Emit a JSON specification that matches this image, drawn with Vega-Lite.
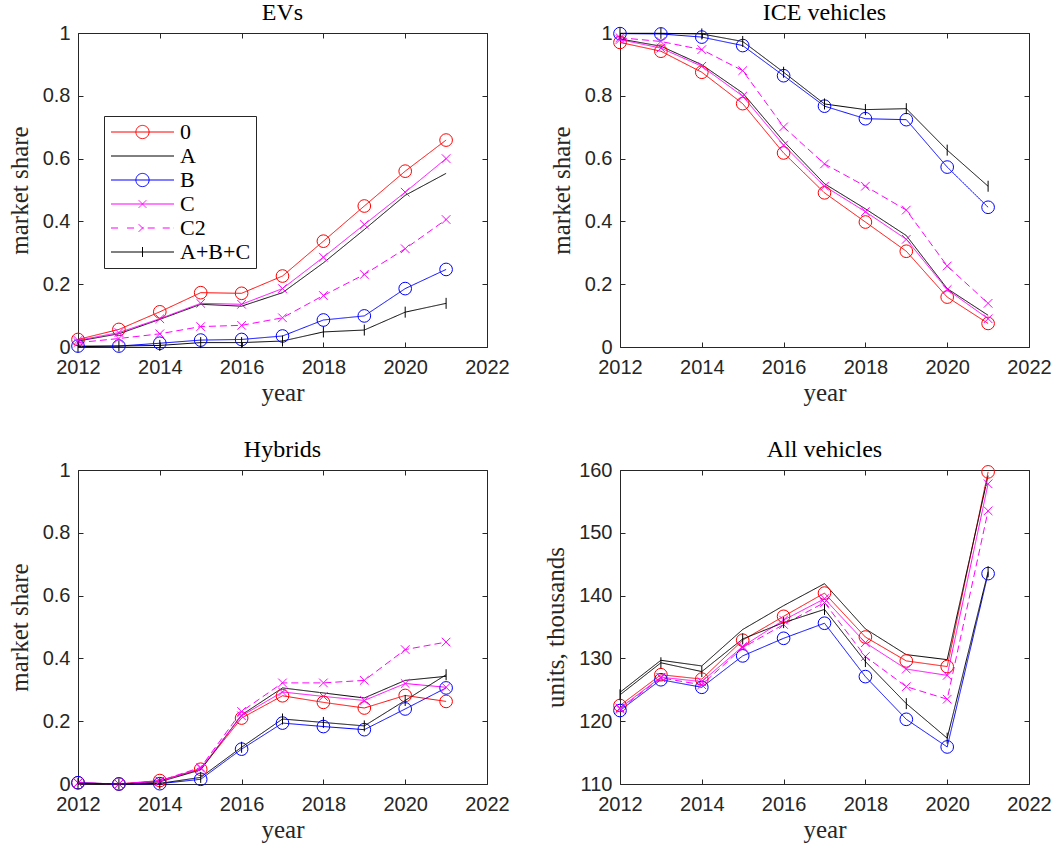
{
  "$schema": "https://vega.github.io/schema/vega-lite/v6.json",
  "autosize": {"type": "pad"},
  "padding": {"left": 6, "top": 0, "right": 5, "bottom": 5},
  "background": "white",
  "datasets": {
    "d": [
      {"panel":"EVs","series":"0","year":2012,"value":0.024},{"panel":"EVs","series":"0","year":2013,"value":0.056},{"panel":"EVs","series":"0","year":2014,"value":0.112},{"panel":"EVs","series":"0","year":2015,"value":0.173},{"panel":"EVs","series":"0","year":2016,"value":0.171},{"panel":"EVs","series":"0","year":2017,"value":0.226},{"panel":"EVs","series":"0","year":2018,"value":0.337},{"panel":"EVs","series":"0","year":2019,"value":0.449},{"panel":"EVs","series":"0","year":2020,"value":0.560},{"panel":"EVs","series":"0","year":2021,"value":0.659},
      {"panel":"EVs","series":"A","year":2012,"value":0.019},{"panel":"EVs","series":"A","year":2013,"value":0.042},{"panel":"EVs","series":"A","year":2014,"value":0.088},{"panel":"EVs","series":"A","year":2015,"value":0.136},{"panel":"EVs","series":"A","year":2016,"value":0.130},{"panel":"EVs","series":"A","year":2017,"value":0.173},{"panel":"EVs","series":"A","year":2018,"value":0.268},{"panel":"EVs","series":"A","year":2019,"value":0.374},{"panel":"EVs","series":"A","year":2020,"value":0.483},{"panel":"EVs","series":"A","year":2021,"value":0.553},
      {"panel":"EVs","series":"B","year":2012,"value":0.003},{"panel":"EVs","series":"B","year":2013,"value":0.003},{"panel":"EVs","series":"B","year":2014,"value":0.012},{"panel":"EVs","series":"B","year":2015,"value":0.022},{"panel":"EVs","series":"B","year":2016,"value":0.024},{"panel":"EVs","series":"B","year":2017,"value":0.035},{"panel":"EVs","series":"B","year":2018,"value":0.086},{"panel":"EVs","series":"B","year":2019,"value":0.099},{"panel":"EVs","series":"B","year":2020,"value":0.186},{"panel":"EVs","series":"B","year":2021,"value":0.247},
      {"panel":"EVs","series":"C","year":2012,"value":0.021},{"panel":"EVs","series":"C","year":2013,"value":0.046},{"panel":"EVs","series":"C","year":2014,"value":0.090},{"panel":"EVs","series":"C","year":2015,"value":0.139},{"panel":"EVs","series":"C","year":2016,"value":0.136},{"panel":"EVs","series":"C","year":2017,"value":0.186},{"panel":"EVs","series":"C","year":2018,"value":0.286},{"panel":"EVs","series":"C","year":2019,"value":0.390},{"panel":"EVs","series":"C","year":2020,"value":0.493},{"panel":"EVs","series":"C","year":2021,"value":0.600},
      {"panel":"EVs","series":"C2","year":2012,"value":0.014},{"panel":"EVs","series":"C2","year":2013,"value":0.027},{"panel":"EVs","series":"C2","year":2014,"value":0.042},{"panel":"EVs","series":"C2","year":2015,"value":0.065},{"panel":"EVs","series":"C2","year":2016,"value":0.069},{"panel":"EVs","series":"C2","year":2017,"value":0.093},{"panel":"EVs","series":"C2","year":2018,"value":0.164},{"panel":"EVs","series":"C2","year":2019,"value":0.231},{"panel":"EVs","series":"C2","year":2020,"value":0.313},{"panel":"EVs","series":"C2","year":2021,"value":0.406},
      {"panel":"EVs","series":"A+B+C","year":2012,"value":0.001},{"panel":"EVs","series":"A+B+C","year":2013,"value":0.003},{"panel":"EVs","series":"A+B+C","year":2014,"value":0.005},{"panel":"EVs","series":"A+B+C","year":2015,"value":0.014},{"panel":"EVs","series":"A+B+C","year":2016,"value":0.014},{"panel":"EVs","series":"A+B+C","year":2017,"value":0.019},{"panel":"EVs","series":"A+B+C","year":2018,"value":0.048},{"panel":"EVs","series":"A+B+C","year":2019,"value":0.054},{"panel":"EVs","series":"A+B+C","year":2020,"value":0.111},{"panel":"EVs","series":"A+B+C","year":2021,"value":0.139},

      {"panel":"ICE","series":"0","year":2012,"value":0.970},{"panel":"ICE","series":"0","year":2013,"value":0.942},{"panel":"ICE","series":"0","year":2014,"value":0.875},{"panel":"ICE","series":"0","year":2015,"value":0.775},{"panel":"ICE","series":"0","year":2016,"value":0.618},{"panel":"ICE","series":"0","year":2017,"value":0.491},{"panel":"ICE","series":"0","year":2018,"value":0.398},{"panel":"ICE","series":"0","year":2019,"value":0.305},{"panel":"ICE","series":"0","year":2020,"value":0.159},{"panel":"ICE","series":"0","year":2021,"value":0.075},
      {"panel":"ICE","series":"A","year":2012,"value":0.981},{"panel":"ICE","series":"A","year":2013,"value":0.958},{"panel":"ICE","series":"A","year":2014,"value":0.899},{"panel":"ICE","series":"A","year":2015,"value":0.809},{"panel":"ICE","series":"A","year":2016,"value":0.655},{"panel":"ICE","series":"A","year":2017,"value":0.520},{"panel":"ICE","series":"A","year":2018,"value":0.440},{"panel":"ICE","series":"A","year":2019,"value":0.355},{"panel":"ICE","series":"A","year":2020,"value":0.186},{"panel":"ICE","series":"A","year":2021,"value":0.101},
      {"panel":"ICE","series":"B","year":2012,"value":0.998},{"panel":"ICE","series":"B","year":2013,"value":0.997},{"panel":"ICE","series":"B","year":2014,"value":0.987},{"panel":"ICE","series":"B","year":2015,"value":0.960},{"panel":"ICE","series":"B","year":2016,"value":0.864},{"panel":"ICE","series":"B","year":2017,"value":0.767},{"panel":"ICE","series":"B","year":2018,"value":0.727},{"panel":"ICE","series":"B","year":2019,"value":0.724},{"panel":"ICE","series":"B","year":2020,"value":0.573},{"panel":"ICE","series":"B","year":2021,"value":0.445},
      {"panel":"ICE","series":"C","year":2012,"value":0.979},{"panel":"ICE","series":"C","year":2013,"value":0.952},{"panel":"ICE","series":"C","year":2014,"value":0.894},{"panel":"ICE","series":"C","year":2015,"value":0.799},{"panel":"ICE","series":"C","year":2016,"value":0.643},{"panel":"ICE","series":"C","year":2017,"value":0.512},{"panel":"ICE","series":"C","year":2018,"value":0.431},{"panel":"ICE","series":"C","year":2019,"value":0.343},{"panel":"ICE","series":"C","year":2020,"value":0.183},{"panel":"ICE","series":"C","year":2021,"value":0.090},
      {"panel":"ICE","series":"C2","year":2012,"value":0.985},{"panel":"ICE","series":"C2","year":2013,"value":0.973},{"panel":"ICE","series":"C2","year":2014,"value":0.947},{"panel":"ICE","series":"C2","year":2015,"value":0.880},{"panel":"ICE","series":"C2","year":2016,"value":0.701},{"panel":"ICE","series":"C2","year":2017,"value":0.583},{"panel":"ICE","series":"C2","year":2018,"value":0.512},{"panel":"ICE","series":"C2","year":2019,"value":0.436},{"panel":"ICE","series":"C2","year":2020,"value":0.258},{"panel":"ICE","series":"C2","year":2021,"value":0.139},
      {"panel":"ICE","series":"A+B+C","year":2012,"value":0.999},{"panel":"ICE","series":"A+B+C","year":2013,"value":0.999},{"panel":"ICE","series":"A+B+C","year":2014,"value":0.997},{"panel":"ICE","series":"A+B+C","year":2015,"value":0.973},{"panel":"ICE","series":"A+B+C","year":2016,"value":0.875},{"panel":"ICE","series":"A+B+C","year":2017,"value":0.774},{"panel":"ICE","series":"A+B+C","year":2018,"value":0.756},{"panel":"ICE","series":"A+B+C","year":2019,"value":0.759},{"panel":"ICE","series":"A+B+C","year":2020,"value":0.627},{"panel":"ICE","series":"A+B+C","year":2021,"value":0.512},

      {"panel":"Hyb","series":"0","year":2012,"value":0.004},{"panel":"Hyb","series":"0","year":2013,"value":0.000},{"panel":"Hyb","series":"0","year":2014,"value":0.011},{"panel":"Hyb","series":"0","year":2015,"value":0.047},{"panel":"Hyb","series":"0","year":2016,"value":0.210},{"panel":"Hyb","series":"0","year":2017,"value":0.281},{"panel":"Hyb","series":"0","year":2018,"value":0.260},{"panel":"Hyb","series":"0","year":2019,"value":0.242},{"panel":"Hyb","series":"0","year":2020,"value":0.282},{"panel":"Hyb","series":"0","year":2021,"value":0.263},
      {"panel":"Hyb","series":"A","year":2012,"value":0.002},{"panel":"Hyb","series":"A","year":2013,"value":0.000},{"panel":"Hyb","series":"A","year":2014,"value":0.007},{"panel":"Hyb","series":"A","year":2015,"value":0.045},{"panel":"Hyb","series":"A","year":2016,"value":0.220},{"panel":"Hyb","series":"A","year":2017,"value":0.306},{"panel":"Hyb","series":"A","year":2018,"value":0.290},{"panel":"Hyb","series":"A","year":2019,"value":0.274},{"panel":"Hyb","series":"A","year":2020,"value":0.330},{"panel":"Hyb","series":"A","year":2021,"value":0.343},
      {"panel":"Hyb","series":"B","year":2012,"value":0.004},{"panel":"Hyb","series":"B","year":2013,"value":0.000},{"panel":"Hyb","series":"B","year":2014,"value":0.001},{"panel":"Hyb","series":"B","year":2015,"value":0.015},{"panel":"Hyb","series":"B","year":2016,"value":0.111},{"panel":"Hyb","series":"B","year":2017,"value":0.194},{"panel":"Hyb","series":"B","year":2018,"value":0.183},{"panel":"Hyb","series":"B","year":2019,"value":0.173},{"panel":"Hyb","series":"B","year":2020,"value":0.239},{"panel":"Hyb","series":"B","year":2021,"value":0.306},
      {"panel":"Hyb","series":"C","year":2012,"value":0.003},{"panel":"Hyb","series":"C","year":2013,"value":0.000},{"panel":"Hyb","series":"C","year":2014,"value":0.009},{"panel":"Hyb","series":"C","year":2015,"value":0.050},{"panel":"Hyb","series":"C","year":2016,"value":0.217},{"panel":"Hyb","series":"C","year":2017,"value":0.293},{"panel":"Hyb","series":"C","year":2018,"value":0.279},{"panel":"Hyb","series":"C","year":2019,"value":0.266},{"panel":"Hyb","series":"C","year":2020,"value":0.320},{"panel":"Hyb","series":"C","year":2021,"value":0.308},
      {"panel":"Hyb","series":"C2","year":2012,"value":0.004},{"panel":"Hyb","series":"C2","year":2013,"value":0.000},{"panel":"Hyb","series":"C2","year":2014,"value":0.010},{"panel":"Hyb","series":"C2","year":2015,"value":0.053},{"panel":"Hyb","series":"C2","year":2016,"value":0.231},{"panel":"Hyb","series":"C2","year":2017,"value":0.322},{"panel":"Hyb","series":"C2","year":2018,"value":0.322},{"panel":"Hyb","series":"C2","year":2019,"value":0.330},{"panel":"Hyb","series":"C2","year":2020,"value":0.428},{"panel":"Hyb","series":"C2","year":2021,"value":0.452},
      {"panel":"Hyb","series":"A+B+C","year":2012,"value":0.002},{"panel":"Hyb","series":"A+B+C","year":2013,"value":0.000},{"panel":"Hyb","series":"A+B+C","year":2014,"value":0.002},{"panel":"Hyb","series":"A+B+C","year":2015,"value":0.021},{"panel":"Hyb","series":"A+B+C","year":2016,"value":0.117},{"panel":"Hyb","series":"A+B+C","year":2017,"value":0.207},{"panel":"Hyb","series":"A+B+C","year":2018,"value":0.196},{"panel":"Hyb","series":"A+B+C","year":2019,"value":0.185},{"panel":"Hyb","series":"A+B+C","year":2020,"value":0.266},{"panel":"Hyb","series":"A+B+C","year":2021,"value":0.348},

      {"panel":"All","series":"0","year":2012,"value":122.5},{"panel":"All","series":"0","year":2013,"value":127.4},{"panel":"All","series":"0","year":2014,"value":126.7},{"panel":"All","series":"0","year":2015,"value":132.9},{"panel":"All","series":"0","year":2016,"value":136.7},{"panel":"All","series":"0","year":2017,"value":140.4},{"panel":"All","series":"0","year":2018,"value":133.4},{"panel":"All","series":"0","year":2019,"value":129.6},{"panel":"All","series":"0","year":2020,"value":128.7},{"panel":"All","series":"0","year":2021,"value":159.7},
      {"panel":"All","series":"A","year":2012,"value":124.6},{"panel":"All","series":"A","year":2013,"value":129.7},{"panel":"All","series":"A","year":2014,"value":128.8},{"panel":"All","series":"A","year":2015,"value":134.6},{"panel":"All","series":"A","year":2016,"value":138.4},{"panel":"All","series":"A","year":2017,"value":141.9},{"panel":"All","series":"A","year":2018,"value":134.7},{"panel":"All","series":"A","year":2019,"value":130.6},{"panel":"All","series":"A","year":2020,"value":129.8},{"panel":"All","series":"A","year":2021,"value":159.1},
      {"panel":"All","series":"B","year":2012,"value":121.7},{"panel":"All","series":"B","year":2013,"value":126.6},{"panel":"All","series":"B","year":2014,"value":125.4},{"panel":"All","series":"B","year":2015,"value":130.4},{"panel":"All","series":"B","year":2016,"value":133.2},{"panel":"All","series":"B","year":2017,"value":135.6},{"panel":"All","series":"B","year":2018,"value":127.1},{"panel":"All","series":"B","year":2019,"value":120.3},{"panel":"All","series":"B","year":2020,"value":115.9},{"panel":"All","series":"B","year":2021,"value":143.5},
      {"panel":"All","series":"C","year":2012,"value":122.1},{"panel":"All","series":"C","year":2013,"value":127.0},{"panel":"All","series":"C","year":2014,"value":126.3},{"panel":"All","series":"C","year":2015,"value":131.9},{"panel":"All","series":"C","year":2016,"value":136.1},{"panel":"All","series":"C","year":2017,"value":139.5},{"panel":"All","series":"C","year":2018,"value":132.5},{"panel":"All","series":"C","year":2019,"value":128.3},{"panel":"All","series":"C","year":2020,"value":127.3},{"panel":"All","series":"C","year":2021,"value":157.8},
      {"panel":"All","series":"C2","year":2012,"value":121.9},{"panel":"All","series":"C2","year":2013,"value":126.9},{"panel":"All","series":"C2","year":2014,"value":125.8},{"panel":"All","series":"C2","year":2015,"value":131.7},{"panel":"All","series":"C2","year":2016,"value":135.4},{"panel":"All","series":"C2","year":2017,"value":138.9},{"panel":"All","series":"C2","year":2018,"value":130.3},{"panel":"All","series":"C2","year":2019,"value":125.5},{"panel":"All","series":"C2","year":2020,"value":123.5},{"panel":"All","series":"C2","year":2021,"value":153.5},
      {"panel":"All","series":"A+B+C","year":2012,"value":124.2},{"panel":"All","series":"A+B+C","year":2013,"value":129.3},{"panel":"All","series":"A+B+C","year":2014,"value":127.9},{"panel":"All","series":"A+B+C","year":2015,"value":133.1},{"panel":"All","series":"A+B+C","year":2016,"value":135.7},{"panel":"All","series":"A+B+C","year":2017,"value":137.8},{"panel":"All","series":"A+B+C","year":2018,"value":129.5},{"panel":"All","series":"A+B+C","year":2019,"value":122.8},{"panel":"All","series":"A+B+C","year":2020,"value":117.3},{"panel":"All","series":"A+B+C","year":2021,"value":143.8}
    ]
  },
  "data": {"name": "d"},
  "columns": 2,
  "bounds": "flush",
  "spacing": {"row": 123, "column": 133},
  "resolve": {
    "scale": {"color": "independent", "shape": "independent", "strokeDash": "independent"},
    "legend": {"color": "independent", "shape": "independent", "strokeDash": "independent"}
  },
  "concat": [
    {
      "title": {"text": "EVs"},
      "width": 409, "height": 314,
      "transform": [{"filter": "datum.panel === 'EVs'"}],
      "layer": [
        {
          "mark": {"type": "line", "strokeWidth": 1},
          "encoding": {
            "x": {"field": "year", "type": "quantitative", "scale": {"domain": [2012, 2022], "nice": false}, "axis": {"title": "year", "values": [2012, 2014, 2016, 2018, 2020, 2022], "format": "d"}},
            "y": {"field": "value", "type": "quantitative", "scale": {"domain": [0, 1], "nice": false, "zero": false}, "axis": {"title": "market share", "values": [0, 0.2, 0.4, 0.6, 0.8, 1], "format": "~g"}},
            "color": {"field": "series", "type": "nominal", "scale": {"domain": ["0", "A", "B", "C", "C2", "A+B+C"], "range": ["#ff0000", "#000000", "#0000ff", "#ff00ff", "#ff00ff", "#000000"]},
              "legend": {
                "title": null, "orient": "none", "legendX": 26, "legendY": 83,
                "padding": 5, "rowPadding": 2, "strokeColor": "#262626", "fillColor": "white", "cornerRadius": 0,
                "labelFont": "Liberation Serif", "labelFontSize": 22, "labelColor": "#000000", "symbolSize": 144, "symbolStrokeWidth": 1,
                "encode": {
                  "symbols": {"update": {
                    "shape": {"signal": "(datum.value === '0' || datum.value === 'B') ? 'M-5.25,0L5.25,0M1.1,0A1.1,1.1 0 1 1 -1.1,0A1.1,1.1 0 1 1 1.1,0' : datum.value === 'A' ? 'M-5.25,0L5.25,0' : datum.value === 'C' ? 'M-5.25,0L5.25,0M-0.64,-0.64L0.64,0.64M-0.64,0.64L0.64,-0.64' : datum.value === 'C2' ? 'M-5.25,0L-3.47,0M-2.58,0L-0.92,0M0.87,0L2.53,0M3.37,0L5.25,0M-0.64,-0.64L0.64,0.64M-0.64,0.64L0.64,-0.64' : 'M-5.25,0L5.25,0M0,-0.83L0,0.83'"},
                    "x": {"value": 33.5},
                    "size": {"value": 144},
                    "fill": {"value": "transparent"},
                    "strokeWidth": {"value": 1},
                    "strokeDash": {"value": [1, 0]},
                    "opacity": {"value": 1}
                  }},
                  "labels": {"update": {"x": {"value": 71}}}
                }
              }
            },
            "strokeDash": {"field": "series", "type": "nominal", "scale": {"domain": ["0", "A", "B", "C", "C2", "A+B+C"], "range": [[1, 0], [1, 0], [1, 0], [1, 0], [7, 4], [1, 0]]}, "legend": null}
          }
        },
        {
          "transform": [{"filter": "datum.series !== 'A'"}],
          "mark": {"type": "point", "filled": false, "size": 160, "strokeWidth": 1, "opacity": 1},
          "encoding": {
            "x": {"field": "year", "type": "quantitative", "axis": {"orient": "top", "labels": false, "title": null, "values": [2012, 2014, 2016, 2018, 2020, 2022]}},
            "y": {"field": "value", "type": "quantitative", "axis": {"orient": "right", "labels": false, "title": null, "values": [0, 0.2, 0.4, 0.6, 0.8, 1]}},
            "color": {"field": "series", "type": "nominal", "legend": null},
            "shape": {"field": "series", "type": "nominal", "scale": {"domain": ["0", "B", "C", "C2", "A+B+C"], "range": ["circle", "circle", "M-0.68,-0.68L0.68,0.68M-0.68,0.68L0.68,-0.68", "M-0.68,-0.68L0.68,0.68M-0.68,0.68L0.68,-0.68", "M0,-0.87L0,0.87"]}, "legend": null}
          }
        }
      ],
      "resolve": {"axis": {"x": "independent", "y": "independent"}}
    },
    {
      "title": {"text": "ICE vehicles"},
      "width": 409, "height": 314,
      "transform": [{"filter": "datum.panel === 'ICE'"}],
      "layer": [
        {
          "mark": {"type": "line", "strokeWidth": 1},
          "encoding": {
            "x": {"field": "year", "type": "quantitative", "scale": {"domain": [2012, 2022], "nice": false}, "axis": {"title": "year", "values": [2012, 2014, 2016, 2018, 2020, 2022], "format": "d"}},
            "y": {"field": "value", "type": "quantitative", "scale": {"domain": [0, 1], "nice": false, "zero": false}, "axis": {"title": "market share", "values": [0, 0.2, 0.4, 0.6, 0.8, 1], "format": "~g"}},
            "color": {"field": "series", "type": "nominal", "scale": {"domain": ["0", "A", "B", "C", "C2", "A+B+C"], "range": ["#ff0000", "#000000", "#0000ff", "#ff00ff", "#ff00ff", "#000000"]}, "legend": null},
            "strokeDash": {"field": "series", "type": "nominal", "scale": {"domain": ["0", "A", "B", "C", "C2", "A+B+C"], "range": [[1, 0], [1, 0], [1, 0], [1, 0], [7, 4], [1, 0]]}, "legend": null}
          }
        },
        {
          "transform": [{"filter": "datum.series !== 'A'"}],
          "mark": {"type": "point", "filled": false, "size": 160, "strokeWidth": 1, "opacity": 1},
          "encoding": {
            "x": {"field": "year", "type": "quantitative", "axis": {"orient": "top", "labels": false, "title": null, "values": [2012, 2014, 2016, 2018, 2020, 2022]}},
            "y": {"field": "value", "type": "quantitative", "axis": {"orient": "right", "labels": false, "title": null, "values": [0, 0.2, 0.4, 0.6, 0.8, 1]}},
            "color": {"field": "series", "type": "nominal", "legend": null},
            "shape": {"field": "series", "type": "nominal", "scale": {"domain": ["0", "B", "C", "C2", "A+B+C"], "range": ["circle", "circle", "M-0.68,-0.68L0.68,0.68M-0.68,0.68L0.68,-0.68", "M-0.68,-0.68L0.68,0.68M-0.68,0.68L0.68,-0.68", "M0,-0.87L0,0.87"]}, "legend": null}
          }
        }
      ],
      "resolve": {"axis": {"x": "independent", "y": "independent"}}
    },
    {
      "title": {"text": "Hybrids"},
      "width": 409, "height": 314,
      "transform": [{"filter": "datum.panel === 'Hyb'"}],
      "layer": [
        {
          "mark": {"type": "line", "strokeWidth": 1},
          "encoding": {
            "x": {"field": "year", "type": "quantitative", "scale": {"domain": [2012, 2022], "nice": false}, "axis": {"title": "year", "values": [2012, 2014, 2016, 2018, 2020, 2022], "format": "d"}},
            "y": {"field": "value", "type": "quantitative", "scale": {"domain": [0, 1], "nice": false, "zero": false}, "axis": {"title": "market share", "values": [0, 0.2, 0.4, 0.6, 0.8, 1], "format": "~g"}},
            "color": {"field": "series", "type": "nominal", "scale": {"domain": ["0", "A", "B", "C", "C2", "A+B+C"], "range": ["#ff0000", "#000000", "#0000ff", "#ff00ff", "#ff00ff", "#000000"]}, "legend": null},
            "strokeDash": {"field": "series", "type": "nominal", "scale": {"domain": ["0", "A", "B", "C", "C2", "A+B+C"], "range": [[1, 0], [1, 0], [1, 0], [1, 0], [7, 4], [1, 0]]}, "legend": null}
          }
        },
        {
          "transform": [{"filter": "datum.series !== 'A'"}],
          "mark": {"type": "point", "filled": false, "size": 160, "strokeWidth": 1, "opacity": 1},
          "encoding": {
            "x": {"field": "year", "type": "quantitative", "axis": {"orient": "top", "labels": false, "title": null, "values": [2012, 2014, 2016, 2018, 2020, 2022]}},
            "y": {"field": "value", "type": "quantitative", "axis": {"orient": "right", "labels": false, "title": null, "values": [0, 0.2, 0.4, 0.6, 0.8, 1]}},
            "color": {"field": "series", "type": "nominal", "legend": null},
            "shape": {"field": "series", "type": "nominal", "scale": {"domain": ["0", "B", "C", "C2", "A+B+C"], "range": ["circle", "circle", "M-0.68,-0.68L0.68,0.68M-0.68,0.68L0.68,-0.68", "M-0.68,-0.68L0.68,0.68M-0.68,0.68L0.68,-0.68", "M0,-0.87L0,0.87"]}, "legend": null}
          }
        }
      ],
      "resolve": {"axis": {"x": "independent", "y": "independent"}}
    },
    {
      "title": {"text": "All vehicles"},
      "width": 409, "height": 314,
      "transform": [{"filter": "datum.panel === 'All'"}],
      "layer": [
        {
          "mark": {"type": "line", "strokeWidth": 1},
          "encoding": {
            "x": {"field": "year", "type": "quantitative", "scale": {"domain": [2012, 2022], "nice": false}, "axis": {"title": "year", "values": [2012, 2014, 2016, 2018, 2020, 2022], "format": "d"}},
            "y": {"field": "value", "type": "quantitative", "scale": {"domain": [110, 160], "nice": false, "zero": false}, "axis": {"title": "units, thousands", "values": [110, 120, 130, 140, 150, 160], "format": "d"}},
            "color": {"field": "series", "type": "nominal", "scale": {"domain": ["0", "A", "B", "C", "C2", "A+B+C"], "range": ["#ff0000", "#000000", "#0000ff", "#ff00ff", "#ff00ff", "#000000"]}, "legend": null},
            "strokeDash": {"field": "series", "type": "nominal", "scale": {"domain": ["0", "A", "B", "C", "C2", "A+B+C"], "range": [[1, 0], [1, 0], [1, 0], [1, 0], [7, 4], [1, 0]]}, "legend": null}
          }
        },
        {
          "transform": [{"filter": "datum.series !== 'A'"}],
          "mark": {"type": "point", "filled": false, "size": 160, "strokeWidth": 1, "opacity": 1},
          "encoding": {
            "x": {"field": "year", "type": "quantitative", "axis": {"orient": "top", "labels": false, "title": null, "values": [2012, 2014, 2016, 2018, 2020, 2022]}},
            "y": {"field": "value", "type": "quantitative", "axis": {"orient": "right", "labels": false, "title": null, "values": [110, 120, 130, 140, 150, 160]}},
            "color": {"field": "series", "type": "nominal", "legend": null},
            "shape": {"field": "series", "type": "nominal", "scale": {"domain": ["0", "B", "C", "C2", "A+B+C"], "range": ["circle", "circle", "M-0.68,-0.68L0.68,0.68M-0.68,0.68L0.68,-0.68", "M-0.68,-0.68L0.68,0.68M-0.68,0.68L0.68,-0.68", "M0,-0.87L0,0.87"]}, "legend": null}
          }
        }
      ],
      "resolve": {"axis": {"x": "independent", "y": "independent"}}
    }
  ],
  "config": {
    "view": {"stroke": "#262626", "strokeWidth": 1},
    "axis": {
      "domain": false, "grid": false, "ticks": true, "tickSize": -5, "tickColor": "#262626", "tickWidth": 1,
      "labelFont": "Liberation Sans", "labelFontSize": 20, "labelColor": "#262626", "labelFlush": false, "labelOverlap": false,
      "titleFont": "Liberation Serif", "titleFontSize": 25, "titleFontWeight": "normal", "titleColor": "#262626"
    },
    "axisX": {"labelPadding": 15.5, "titlePadding": 2.5},
    "axisY": {"labelPadding": 13, "titlePadding": 10},
    "title": {"font": "Liberation Serif", "fontSize": 24, "fontWeight": "normal", "color": "#000000", "anchor": "middle", "frame": "group", "offset": -2, "baseline": "alphabetic"}
  }
}
